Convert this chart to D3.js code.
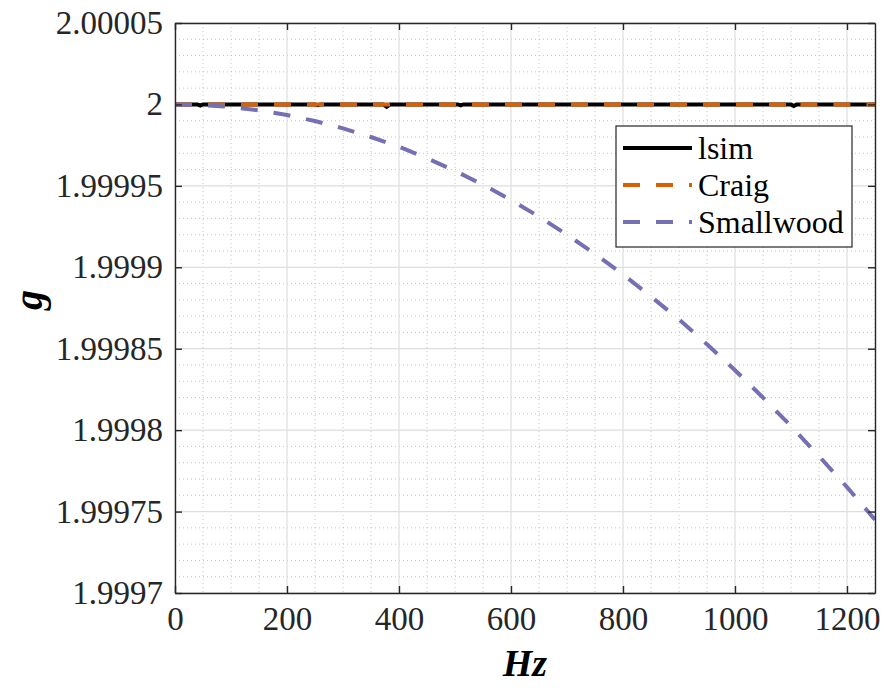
<!DOCTYPE html>
<html>
<head>
<meta charset="utf-8">
<script src="https://cdn.jsdelivr.net/npm/d3@7"></script>
</head>
<body style="margin:0;padding:0;background:#fff">
<svg id="chart" width="884" height="688" style="position:absolute;left:0;top:0"></svg>
<script>
// Frequency axis (Hz) and gain values for each model
const smallwoodHz = [0, 50, 100, 150, 200, 250, 300, 350, 400, 450, 500, 550, 600,
  650, 700, 750, 800, 850, 900, 950, 1000, 1050, 1100, 1150, 1200, 1250];
const smallwoodG = [2.0000000, 1.9999996, 1.9999984, 1.9999963, 1.9999935, 1.9999898,
  1.9999853, 1.9999800, 1.9999740, 1.9999670, 1.9999592, 1.9999507, 1.9999413,
  1.9999311, 1.9999200, 1.9999082, 1.9998956, 1.9998820, 1.9998680, 1.9998527,
  1.9998368, 1.9998200, 1.9998025, 1.9997840, 1.9997650, 1.9997450];

const lsimHz = [0, 40, 45, 50, 250, 255, 260, 372, 378, 384, 505, 510, 515, 1100, 1105, 1110, 1250];
const lsimG = [2.0000000, 2.0000000, 1.9999993, 2.0000000, 2.0000000, 1.9999995, 2.0000000,
  2.0000000, 1.9999985, 2.0000000, 2.0000000, 1.9999994, 2.0000000, 2.0000000, 1.9999990,
  2.0000000, 2.0000000];

const craigHz = [0, 1100, 1106, 1112, 1250];
const craigG = [2.0000000, 2.0000000, 1.9999985, 2.0000000, 2.0000000];

const xTicks = [0, 200, 400, 600, 800, 1000, 1200];
const xTickLabels = ["0", "200", "400", "600", "800", "1000", "1200"];
const yTicks = [1.9997, 1.99975, 1.9998, 1.99985, 1.9999, 1.99995, 2, 2.00005];
const yTickLabels = ["1.9997", "1.99975", "1.9998", "1.99985", "1.9999", "1.99995", "2", "2.00005"];

const seriesNames = ["lsim", "Craig", "Smallwood"];
const seriesColors = ["#000000", "#d95f02", "#7570b3"];

const fontStyle = (size, extra) => `font-family:'Liberation Serif';font-size:${size}px;${extra || ""}`;
const svg = d3.select("#chart");
const L = 175, R = 875, T = 23, B = 593;

const x = d3.scaleLinear().domain([0, 1250]).range([L, R]);
const y = d3.scaleLinear().domain([1.9997, 2.00005]).range([B, T]);

// minor grid
const xMinor = d3.range(0, 1250.1, 50).filter(v => v % 200 !== 0);
const yMinor = d3.range(0, 36).map(i => 1.9997 + i * 0.00001).filter((v, i) => i % 5 !== 0);
const grid = svg.append("g");
grid.selectAll(".xm").data(xMinor).join("line")
  .attr("x1", d => x(d)).attr("x2", d => x(d)).attr("y1", T).attr("y2", B)
  .attr("stroke", "#c4c4c4").attr("stroke-width", 1).attr("stroke-dasharray", "1,3");
grid.selectAll(".ym").data(yMinor).join("line")
  .attr("x1", L).attr("x2", R).attr("y1", d => y(d)).attr("y2", d => y(d))
  .attr("stroke", "#c4c4c4").attr("stroke-width", 1).attr("stroke-dasharray", "1,3");
// major grid
grid.selectAll(".xM").data(xTicks).join("line")
  .attr("x1", d => x(d)).attr("x2", d => x(d)).attr("y1", T).attr("y2", B)
  .attr("stroke", "#dedede").attr("stroke-width", 1.2);
grid.selectAll(".yM").data(yTicks).join("line")
  .attr("x1", L).attr("x2", R).attr("y1", d => y(d)).attr("y2", d => y(d))
  .attr("stroke", "#dedede").attr("stroke-width", 1.2);

// data lines
const plot = svg.append("g");
plot.append("clipPath").attr("id", "clip").append("rect")
  .attr("x", L).attr("y", T).attr("width", R - L).attr("height", B - T);
const line = d3.line().x(d => x(d[0])).y(d => y(d[1]));
const series = [
  { hz: lsimHz, g: lsimG, dash: null },
  { hz: craigHz, g: craigG, dash: "17,16" },
  { hz: smallwoodHz, g: smallwoodG, dash: "17,16" }
];
series.forEach((s, i) => {
  plot.append("path")
    .datum(s.hz.map((h, k) => [h, s.g[k]]))
    .attr("d", line)
    .attr("fill", "none")
    .attr("stroke", seriesColors[i])
    .attr("stroke-width", 4)
    .attr("stroke-dasharray", s.dash)
    .attr("clip-path", "url(#clip)");
});

// axes (ticks inside on all four sides)
const axisColor = "#262626";
const tl = 7;
const axX = svg.append("g").attr("transform", `translate(0,${B})`)
  .call(d3.axisBottom(x).tickValues(xTicks).tickSizeInner(-tl).tickSizeOuter(0).tickPadding(14)
    .tickFormat((d, i) => xTickLabels[i]));
const axX2 = svg.append("g").attr("transform", `translate(0,${T})`)
  .call(d3.axisTop(x).tickValues(xTicks).tickSizeInner(-tl).tickSizeOuter(0).tickFormat(""));
const axY = svg.append("g").attr("transform", `translate(${L},0)`)
  .call(d3.axisLeft(y).tickValues(yTicks).tickSizeInner(-tl).tickSizeOuter(0).tickPadding(12)
    .tickFormat((d, i) => yTickLabels[i]));
const axY2 = svg.append("g").attr("transform", `translate(${R},0)`)
  .call(d3.axisRight(y).tickValues(yTicks).tickSizeInner(-tl).tickSizeOuter(0).tickFormat(""));
[axX, axX2, axY, axY2].forEach(a => {
  a.attr("font-family", null).attr("font-size", null);
  a.select(".domain").attr("stroke", axisColor).attr("stroke-width", 1.4);
  a.selectAll(".tick line").attr("stroke", axisColor).attr("stroke-width", 1.4);
  a.selectAll(".tick text").attr("fill", axisColor).attr("style", fontStyle(33));
});
axX.selectAll(".tick text").attr("dy", "0.71em");

// axis labels
svg.append("text").attr("x", 525).attr("y", 676).attr("text-anchor", "middle")
  .attr("style", fontStyle(38, "font-weight:bold;font-style:italic"))
  .attr("fill", "#000").text("Hz");
svg.append("text").attr("transform", "translate(42,300) rotate(-90)").attr("text-anchor", "middle")
  .attr("style", fontStyle(40, "font-weight:bold;font-style:italic"))
  .attr("fill", "#000").text("g");

// legend
const lg = svg.append("g");
lg.append("rect").attr("x", 616).attr("y", 126).attr("width", 236).attr("height", 121)
  .attr("fill", "#fff").attr("stroke", axisColor).attr("stroke-width", 1.2);
seriesNames.forEach((name, i) => {
  const cy = 148 + i * 37;
  lg.append("line").attr("x1", 623).attr("x2", 692).attr("y1", cy).attr("y2", cy)
    .attr("stroke", seriesColors[i]).attr("stroke-width", 4)
    .attr("stroke-dasharray", i === 0 ? null : "17,16");
  lg.append("text").attr("x", 698).attr("y", cy).attr("dy", "0.35em")
    .attr("style", fontStyle(32)).attr("fill", "#000").text(name);
});
</script>
</body>
</html>
